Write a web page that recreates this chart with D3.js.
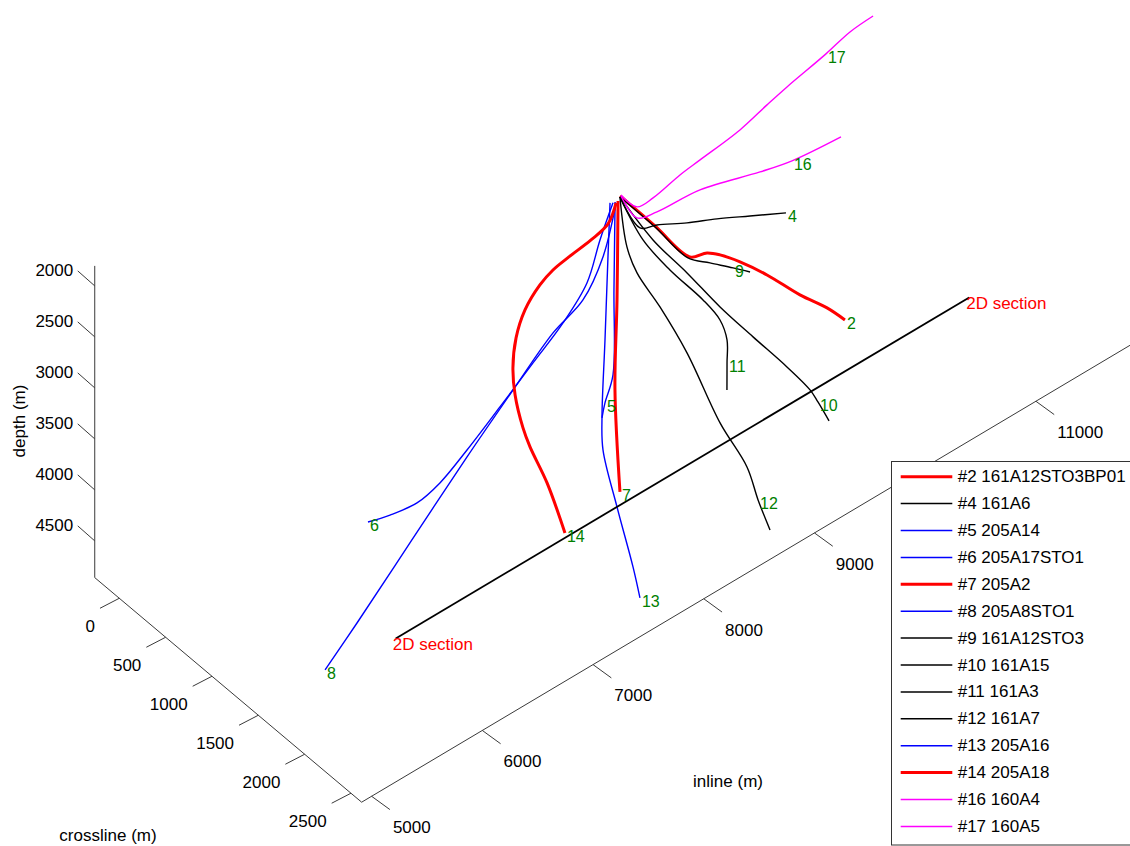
<!DOCTYPE html>
<html>
<head>
<meta charset="utf-8">
<script src="https://cdn.jsdelivr.net/npm/d3@7"></script>
<style>
  body { margin: 0; background: #fff; }
  svg { display: block; font-family: "Liberation Sans", Arial, sans-serif; }
</style>
</head>
<body>
<div id="chart"></div>
<script>
// Axis limits and ticks (metres)
const inlineLim = [4910, 11900];
const crosslineLim = [-265, 2615];
const depthLim = [1804, 4860];
const inlineTicks = [5000, 6000, 7000, 8000, 9000, 10000, 11000];
const crosslineTicks = [0, 500, 1000, 1500, 2000, 2500];
const depthTicks = [2000, 2500, 3000, 3500, 4000, 4500];

// Wells: number, name and group (group picks the colour)
const wellNums = [2, 4, 5, 6, 7, 8, 9, 10, 11, 12, 13, 14, 16, 17];
const wellNames = ["161A12STO3BP01", "161A6", "205A14", "205A17STO1", "205A2", "205A8STO1",
  "161A12STO3", "161A15", "161A3", "161A7", "205A16", "205A18", "160A4", "160A5"];
const wellGroups = ["selected", "161A", "205A", "205A", "selected", "205A",
  "161A", "161A", "161A", "161A", "205A", "selected", "160A", "160A"];
// index of the trajectory point where the well number is written
const wellLabelAt = [9, 6, 3, 10, 3, 8, 4, 7, 6, 7, 7, 13, 5, 8];

// Trajectories: [inline, crossline, depth]
const well2 = [[8134,1552,1810],[8316,1711,2100],[8499,1870,2400],[8678,1840,2500],[8799,1836,2600],
  [8925,1901,2700],[9082,2005,2850],[9227,2187,3000],[9353,2329,3100],[9436,2423,3200]];
const well4 = [[8127,1559,1810],[8128,1774,1950],[8301,1751,2050],[8537,1793,2150],[8785,1820,2250],
  [9042,1869,2350],[9316,1930,2450]];
const well5 = [[8083,1559,1830],[8068,1565,2680],[8055,1570,3500],[7939,1622,3660],[7887,1652,3750]];
const well6 = [[8066,1557,1830],[7905,1609,2050],[7726,1682,2300],[7508,1684,2550],[7258,1659,2800],
  [6967,1650,3050],[6682,1635,3300],[6460,1608,3500],[6309,1541,3650],[6173,1412,3780],[6058,1312,3850]];
const well7 = [[8098,1573,1820],[8093,1568,2790],[8087,1553,3680],[8113,1576,4680]];
const well8 = [[8082,1571,1830],[7910,1635,2200],[7726,1639,2500],[7521,1561,2750],[7175,1543,3100],
  [6735,1572,3450],[6148,1657,3850],[5557,1792,4150],[5221,1849,4350]];
const well9 = [[8127,1559,1810],[8310,1719,2100],[8482,1869,2400],[8631,1928,2500],[8786,1992,2600],
  [8902,2037,2680]];
const well10 = [[8127,1559,1810],[8250,1769,2150],[8415,1939,2450],[8600,2074,2800],[8811,2178,3150],
  [9026,2287,3500],[9196,2333,3800],[9239,2367,3920],[9294,2421,4100]];
const well11 = [[8127,1559,1810],[8133,1801,2050],[8279,1917,2350],[8458,2060,2650],[8582,2095,2900],
  [8622,2123,3100],[8638,2104,3350],[8628,2115,3600]];
const well12 = [[8127,1559,1810],[8068,1705,2150],[8118,1754,2400],[8250,1844,2750],[8361,2003,3150],
  [8416,2294,3650],[8506,2477,4000],[8550,2544,4300],[8617,2593,4600]];
const well13 = [[8050,1544,1830],[8033,1542,2350],[7976,1578,3100],[7861,1683,3700],[7819,1744,3950],
  [7759,1967,4300],[7659,2259,4600],[7597,2408,4750]];
const well14 = [[8082,1571,1830],[8016,1563,2000],[7922,1492,2150],[7794,1406,2300],[7724,1318,2450],
  [7657,1257,2600],[7549,1225,2800],[7454,1242,3000],[7409,1262,3250],[7411,1283,3500],
  [7438,1336,3800],[7452,1395,3950],[7508,1512,4250],[7545,1661,4650]];
const well16 = [[8139,1556,1810],[8143,1724,1900],[8351,1691,2000],[8813,1603,2150],[9372,1583,2350],
  [9675,1566,2450],[10181,1490,2600]];
const well17 = [[8145,1549,1810],[8200,1656,1880],[8386,1607,1950],[8737,1478,2050],[9002,1378,2150],
  [9498,1216,2300],[9863,1072,2400],[10133,965,2480],[10624,799,2600],[10953,665,2700],[11227,587,2780]];

const wellPaths = [well2, well4, well5, well6, well7, well8, well9, well10, well11, well12,
  well13, well14, well16, well17];

// 2D seismic section along inline
const sectionInline = [6120, 11300];
const sectionCrossline = 1537;
const sectionDepth = 4860;

//dimensions
const width = 1130;
const height = 846;
const legendBox = { x: 891.5, y: 461.5, w: 260, h: 383.5 };

const svg = d3.select("#chart").append("svg")
  .attr("width", width)
  .attr("height", height);

/**
 * 3D view: every axis scale gives the fraction along its box edge,
 * the edges are screen vectors of the oblique view
 */
const fI = d3.scaleLinear().domain(inlineLim).range([0, 1]);
const fC = d3.scaleLinear().domain(crosslineLim).range([0, 1]);
const fD = d3.scaleLinear().domain(depthLim).range([0, 1]);
const corner = [94.74, 265.9];
const inlineEdge = [773.9, -460.2];
const crossEdge = [266.9, 224.6];
const depthEdge = [0, 311.7];

function project(p) {
  const a = fI(p[0]), b = fC(p[1]), c = fD(p[2]);
  return [corner[0] + a * inlineEdge[0] + b * crossEdge[0] + c * depthEdge[0],
          corner[1] + a * inlineEdge[1] + b * crossEdge[1] + c * depthEdge[1]];
}

function underLegend(x, y) {
  return x > legendBox.x && y > legendBox.y;
}

const color = d3.scaleOrdinal()
  .domain(["selected", "161A", "205A", "160A"])
  .range(["#ff0000", "#000000", "#0000ff", "#ff00ff"]);
const lineWidth = d3.scaleOrdinal()
  .domain(["selected", "161A", "205A", "160A"])
  .range([3, 1.4, 1.4, 1.4]);

const axisColor = "#3a3a3a";
const axes = svg.append("g");

function axisLine(p0, p1) {
  const a = project(p0), b = project(p1);
  axes.append("line")
    .attr("x1", a[0]).attr("y1", a[1]).attr("x2", b[0]).attr("y2", b[1])
    .attr("stroke", axisColor).attr("stroke-width", 1);
}

// depth axis, crossline axis, inline axis
axisLine([inlineLim[0], crosslineLim[0], depthLim[0]], [inlineLim[0], crosslineLim[0], depthLim[1]]);
axisLine([inlineLim[0], crosslineLim[0], depthLim[1]], [inlineLim[0], crosslineLim[1], depthLim[1]]);
axisLine([inlineLim[0], crosslineLim[1], depthLim[1]], [inlineLim[1], crosslineLim[1], depthLim[1]]);

function ticks(values, toPoint, vec, labelOff, anchor) {
  values.forEach(function (t) {
    const p = project(toPoint(t));
    const e = [p[0] + vec[0], p[1] + vec[1]];
    axes.append("line")
      .attr("x1", p[0]).attr("y1", p[1]).attr("x2", e[0]).attr("y2", e[1])
      .attr("stroke", axisColor).attr("stroke-width", 1);
    // the legend hides labels sitting behind it
    if (underLegend(e[0], e[1])) return;
    axes.append("text")
      .attr("x", e[0] + labelOff[0]).attr("y", e[1] + labelOff[1])
      .attr("text-anchor", anchor)
      .attr("dominant-baseline", "central")
      .attr("font-size", 17)
      .text(t);
  });
}

ticks(depthTicks, function (t) { return [inlineLim[0], crosslineLim[0], t]; }, [-17, -15], [-4.5, 0], "end");
ticks(crosslineTicks, function (t) { return [inlineLim[0], t, depthLim[1]]; }, [-19.3, 10], [-5, 18], "end");
ticks(inlineTicks, function (t) { return [t, crosslineLim[1], depthLim[1]]; }, [18.3, 13.3], [3, 18], "start");

// axis titles
axes.append("text")
  .attr("transform", "translate(19,421) rotate(-90)")
  .attr("text-anchor", "middle").attr("dominant-baseline", "central")
  .attr("font-size", 17).text("depth (m)");
axes.append("text")
  .attr("x", 108).attr("y", 835)
  .attr("text-anchor", "middle").attr("dominant-baseline", "central")
  .attr("font-size", 17).text("crossline (m)");
axes.append("text")
  .attr("x", 728).attr("y", 781)
  .attr("text-anchor", "middle").attr("dominant-baseline", "central")
  .attr("font-size", 17).text("inline (m)");

/**
 * Well trajectories
 */
const line = d3.line()
  .x(function (d) { return project(d)[0]; })
  .y(function (d) { return project(d)[1]; })
  .curve(d3.curveCatmullRom.alpha(0.5));

svg.append("g")
  .selectAll("path")
  .data(wellPaths)
  .enter()
  .append("path")
  .attr("d", line)
  .attr("fill", "none")
  .attr("stroke", function (d, i) { return color(wellGroups[i]); })
  .attr("stroke-width", function (d, i) { return lineWidth(wellGroups[i]); })
  .attr("stroke-linejoin", "round");

// 2D section
const sectionPts = sectionInline.map(function (v) { return [v, sectionCrossline, sectionDepth]; });
svg.append("path")
  .attr("d", d3.line()(sectionPts.map(project)))
  .attr("stroke", "#000").attr("stroke-width", 1.8).attr("fill", "none");
svg.append("g")
  .selectAll("text")
  .data(sectionPts)
  .enter()
  .append("text")
  .attr("x", function (d) { return project(d)[0] - 3; })
  .attr("y", function (d) { return project(d)[1] + 6; })
  .attr("dominant-baseline", "central")
  .attr("font-size", 17)
  .attr("fill", "#ff0000")
  .text("2D section");

// well numbers
svg.append("g")
  .selectAll("text")
  .data(wellNums)
  .enter()
  .append("text")
  .attr("x", function (d, i) { return project(wellPaths[i][wellLabelAt[i]])[0] + 2; })
  .attr("y", function (d, i) { return project(wellPaths[i][wellLabelAt[i]])[1] + 3.5; })
  .attr("dominant-baseline", "central")
  .attr("font-size", 16)
  .attr("fill", "#008000")
  .text(function (d) { return d; });

/**
 * Legend
 */
const legend = svg.append("g").attr("transform", "translate(" + legendBox.x + "," + legendBox.y + ")");
legend.append("rect")
  .attr("width", legendBox.w).attr("height", legendBox.h)
  .attr("fill", "#fff").attr("stroke", "#333").attr("stroke-width", 1);

const rows = legend.selectAll("g.row")
  .data(wellNums)
  .enter()
  .append("g")
  .attr("class", "row")
  .attr("transform", function (d, i) { return "translate(0," + (15.2 + i * 26.9) + ")"; });
rows.append("line")
  .attr("x1", 9.2).attr("x2", 60.8)
  .attr("stroke", function (d, i) { return color(wellGroups[i]); })
  .attr("stroke-width", function (d, i) { return lineWidth(wellGroups[i]) === 3 ? 3 : 1.5; });
rows.append("text")
  .attr("x", 66.2)
  .attr("dominant-baseline", "central")
  .attr("font-size", 17)
  .text(function (d, i) { return "#" + d + " " + wellNames[i]; });
</script>
</body>
</html>
